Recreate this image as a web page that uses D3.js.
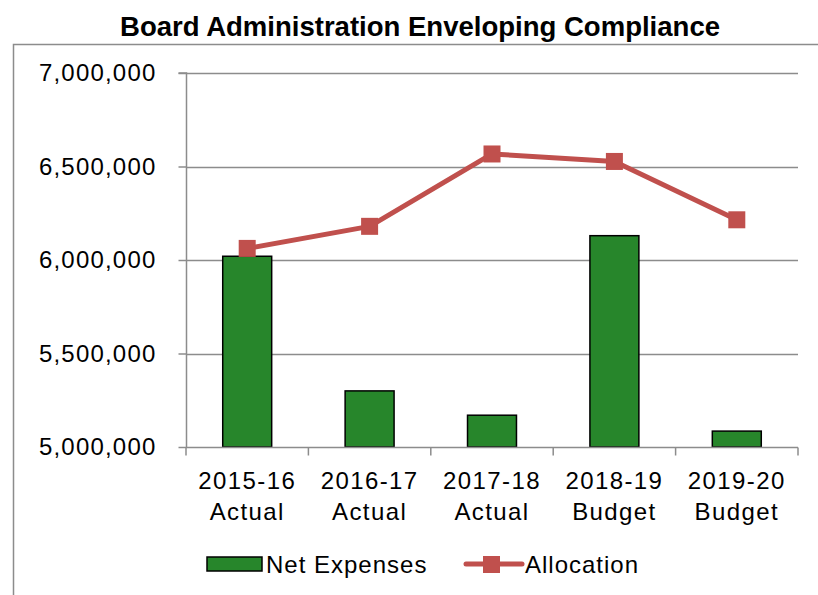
<!DOCTYPE html>
<html><head><meta charset="utf-8">
<script src="https://cdn.jsdelivr.net/npm/d3@7"></script>
<style>body{margin:0;background:#fff}svg{display:block}</style>
</head><body>
<svg id="c" width="818" height="595"></svg>
<script>
const categories = [["2015-16","Actual"],["2016-17","Actual"],["2017-18","Actual"],["2018-19","Budget"],["2019-20","Budget"]];
const netExpenses = [6020000, 5300000, 5170000, 6130000, 5085000];
const allocation = [6062000, 6180000, 6567000, 6527000, 6215000];
const yTicks = [5000000, 5500000, 6000000, 6500000, 7000000];
const title = "Board Administration Enveloping Compliance";
const seriesNames = ["Net Expenses", "Allocation"];

const svg = d3.select("#c");
const m = {left:186, right:798, top:73, bottom:447};
const font = "'Liberation Sans', Arial, sans-serif";
const green = "#27862b", red = "#c0504d", grid = "#8c8c8c";

// outer border
svg.append("rect").attr("x",13.5).attr("y",44.5).attr("width",830).attr("height",600)
  .attr("fill","none").attr("stroke","#8c8c8c").attr("stroke-width",1.5);

svg.append("text").attr("x",420).attr("y",36).attr("text-anchor","middle")
  .attr("font-family",font).attr("font-weight","bold")
  .attr("font-size",28).attr("fill","#000")
  .attr("textLength",600).attr("lengthAdjust","spacingAndGlyphs").text(title);

const x = d3.scaleBand().domain(categories.map(d=>d[0])).range([m.left,m.right]).paddingInner(0.6).paddingOuter(0.3);
const xb = d3.scaleBand().domain(categories.map(d=>d[0])).range([m.left,m.right]);
const y = d3.scaleLinear().domain([5000000,7000000]).range([m.bottom,m.top]);

// gridlines
svg.append("g").selectAll("line").data(yTicks.slice(1)).join("line")
  .attr("x1",m.left).attr("x2",m.right).attr("y1",d=>Math.round(y(d))+0.5).attr("y2",d=>Math.round(y(d))+0.5)
  .attr("stroke",grid).attr("stroke-width",1.5);

// y axis
const ya = svg.append("g").attr("transform",`translate(${m.left+0.5},0)`)
  .call(d3.axisLeft(y).tickValues(yTicks).tickFormat(d3.format(",")).tickSize(8).tickPadding(22));
ya.select(".domain").attr("stroke",grid).attr("stroke-width",1.5).attr("d",`M-8,${m.top}H0V${m.bottom}`);
ya.selectAll(".tick line").attr("stroke",grid).attr("stroke-width",1.5);
ya.selectAll(".tick text").attr("font-family",font).attr("font-size",24).attr("fill","#000")
  .attr("letter-spacing","1.2px");

// bars
svg.append("g").selectAll("rect").data(netExpenses).join("rect")
  .attr("x",(d,i)=>x(categories[i][0])).attr("width",x.bandwidth())
  .attr("y",d=>y(d)).attr("height",d=>y(5000000)-y(d))
  .attr("fill",green).attr("stroke","#000").attr("stroke-width",1.5);

// x axis
const xa = svg.append("g").attr("transform",`translate(0,${m.bottom+0.5})`);
xa.append("line").attr("x1",m.left).attr("x2",m.right).attr("stroke",grid).attr("stroke-width",1.5);
xa.selectAll("line.t").data(d3.range(categories.length+1)).join("line").attr("class","t")
  .attr("x1",i=>m.left+i*xb.step()).attr("x2",i=>m.left+i*xb.step()).attr("y1",0).attr("y2",8)
  .attr("stroke",grid).attr("stroke-width",1.5);
const lbl = xa.selectAll("text").data(categories).join("text")
  .attr("text-anchor","middle").attr("font-family",font).attr("font-size",24).attr("fill","#000")
  .attr("letter-spacing","1.4px")
  .attr("x",d=>xb(d[0])+xb.bandwidth()/2);
lbl.append("tspan").attr("y",41).text(d=>d[0]);
lbl.append("tspan").attr("x",d=>xb(d[0])+xb.bandwidth()/2).attr("y",72).text(d=>d[1]);

// line
const cx = i=>xb(categories[i][0])+xb.bandwidth()/2;
svg.append("path").datum(allocation)
  .attr("d",d3.line().x((d,i)=>cx(i)).y(d=>y(d)))
  .attr("fill","none").attr("stroke",red).attr("stroke-width",5).attr("stroke-linejoin","round");
svg.append("g").selectAll("rect").data(allocation).join("rect")
  .attr("x",(d,i)=>cx(i)-8.5).attr("y",d=>y(d)-8.5).attr("width",17).attr("height",17)
  .attr("fill",red);

// legend
const lg = svg.append("g");
lg.append("rect").attr("x",207).attr("y",557).attr("width",55).attr("height",14)
  .attr("fill",green).attr("stroke","#000").attr("stroke-width",1.5);
lg.append("text").attr("x",266).attr("y",573).attr("font-family",font).attr("font-size",24)
  .attr("letter-spacing","1px").text(seriesNames[0]);
lg.append("line").attr("x1",466).attr("x2",522).attr("y1",564).attr("y2",564)
  .attr("stroke",red).attr("stroke-width",5).attr("stroke-linecap","round");
lg.append("rect").attr("x",483).attr("y",556).attr("width",17).attr("height",17).attr("fill",red);
lg.append("text").attr("x",525).attr("y",573).attr("font-family",font).attr("font-size",24)
  .attr("letter-spacing","1px").text(seriesNames[1]);
</script>
</body></html>
